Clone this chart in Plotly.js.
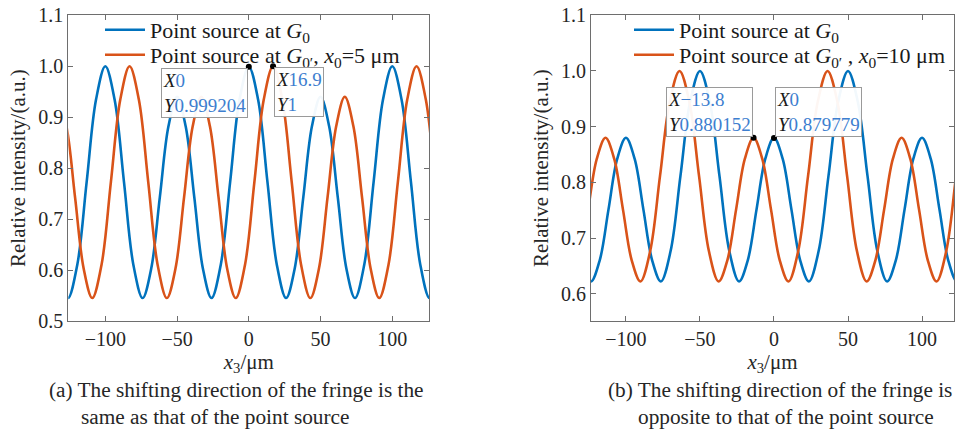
<!DOCTYPE html>
<html>
<head>
<meta charset="utf-8">
<script src="https://cdn.plot.ly/plotly-3.0.1.min.js"></script>
<style>html,body{margin:0;padding:0;background:#fff;}#chart{width:955px;height:430px;}</style>
</head>
<body>
<div id="chart"></div>
<script>
// ---- data ----
// (a) fringe shifts the same way as the point source
const aBlueX = [-132,-126,-119.5,-113,-106.5,-100,-93.5,-87,-80.5,-74,-68,-62,-56,-50,-44,-38,-32,-26,-19.5,-13,-6.5,0,6.5,13,19.5,26,32,38,44,50,56,62,68,74,80.5,87,93.5,100,106.5,113,119.5,126,132];
const aBlueY = [0.603,0.545,0.611,0.773,0.934,1.0,0.934,0.773,0.611,0.545,0.603,0.743,0.882,0.94,0.882,0.743,0.603,0.545,0.611,0.773,0.934,0.999,0.934,0.773,0.611,0.545,0.603,0.743,0.882,0.94,0.882,0.743,0.603,0.545,0.611,0.773,0.934,1.0,0.934,0.773,0.611,0.545,0.603];
const aRedX = [-139.1,-133.1,-127.1,-121.1,-115.1,-109.1,-102.6,-96.1,-89.6,-83.1,-76.6,-70.1,-63.6,-57.1,-51.1,-45.1,-39.1,-33.1,-27.1,-21.1,-15.1,-9.1,-2.6,3.9,10.4,16.9,23.4,29.9,36.4,42.9,48.9,54.9,60.9,66.9,72.9,78.9,84.9,90.9,97.4,103.9,110.4,116.9,123.4,129.9,136.4];
const aRedY = [0.882,0.94,0.882,0.743,0.603,0.545,0.611,0.773,0.934,1.0,0.934,0.773,0.611,0.545,0.603,0.743,0.882,0.94,0.882,0.743,0.603,0.545,0.611,0.773,0.934,1.0,0.934,0.773,0.611,0.545,0.603,0.743,0.882,0.94,0.882,0.743,0.603,0.545,0.611,0.773,0.934,1.0,0.934,0.773,0.611];
const aTipX = [0, 16.9];
const aTipY = [0.999204, 1];

// (b) fringe shifts opposite to the point source
const bBlueX = [-130.2,-123.6,-117.7,-111.8,-105.9,-100,-94.1,-88.2,-82.3,-76.4,-69.8,-63.2,-56.6,-50,-43.4,-36.8,-30.2,-23.6,-17.7,-11.8,-5.9,0,5.9,11.8,17.7,23.6,30.2,36.8,43.4,50,56.6,63.2,69.8,76.4,82.3,88.2,94.1,100,105.9,111.8,117.7,123.6,130.2];
const bBlueY = [0.677,0.622,0.660,0.751,0.842,0.88,0.842,0.751,0.660,0.622,0.677,0.811,0.945,1.0,0.945,0.811,0.677,0.622,0.660,0.751,0.842,0.88,0.842,0.751,0.660,0.622,0.677,0.811,0.945,1.0,0.945,0.811,0.677,0.622,0.660,0.751,0.842,0.88,0.842,0.751,0.660,0.622,0.677];
const bRedX = [-137.4,-131.5,-125.6,-119.7,-113.8,-107.9,-102.0,-96.1,-90.2,-83.6,-77.0,-70.4,-63.8,-57.2,-50.6,-44.0,-37.4,-31.5,-25.6,-19.7,-13.8,-7.9,-2.0,3.9,9.8,16.4,23.0,29.6,36.2,42.8,49.4,56.0,62.6,68.5,74.4,80.3,86.2,92.1,98.0,103.9,109.8,116.4,123.0,129.6];
const bRedY = [0.622,0.660,0.751,0.842,0.88,0.842,0.751,0.660,0.622,0.677,0.811,0.945,1.0,0.945,0.811,0.677,0.622,0.660,0.751,0.842,0.88,0.842,0.751,0.660,0.622,0.677,0.811,0.945,1.0,0.945,0.811,0.677,0.622,0.660,0.751,0.842,0.88,0.842,0.751,0.660,0.622,0.677,0.811,0.945];
const bTipX = [-13.8, 0];
const bTipY = [0.880152, 0.879779];

const legendA = ['Point source at <i>G</i><sub>0</sub>', 'Point source at <i>G</i><sub>0′</sub>, <i>x</i><sub>0</sub>=5 μm'];
const legendB = ['Point source at <i>G</i><sub>0</sub>', 'Point source at <i>G</i><sub>0′</sub> , <i>x</i><sub>0</sub>=10 μm'];
const xTitle = '<i>x</i><sub>3</sub>/μm';
const yTitle = 'Relative intensity/(a.u.)';
const captionA = ['(a) The shifting direction of the fringe is the', 'same as that of the point source'];
const captionB = ['(b) The shifting direction of the fringe is', 'opposite to that of the point source'];

// ---- styling ----
const FONT = 'Liberation Serif, Times New Roman, serif';
const BLUE = '#0072BD', RED = '#D95319', TIPBLUE = '#3d7ecf';
const lineW = 2.6;

function curve(x, y, color, name, xa, ya, leg) {
  return {x, y, type: 'scatter', mode: 'lines', name, xaxis: xa, yaxis: ya, legend: leg,
    line: {color, width: lineW, shape: 'spline', smoothing: 1}, hoverinfo: 'skip'};
}
const traces = [
  curve(aBlueX, aBlueY, BLUE, legendA[0], 'x', 'y', 'legend'),
  curve(aRedX, aRedY, RED, legendA[1], 'x', 'y', 'legend3'),
  curve(bBlueX, bBlueY, BLUE, legendB[0], 'x2', 'y2', 'legend2'),
  curve(bRedX, bRedY, RED, legendB[1], 'x2', 'y2', 'legend4'),
  {x: aTipX, y: aTipY, xaxis: 'x', yaxis: 'y', type: 'scatter', mode: 'markers', showlegend: false,
   marker: {color: '#000', size: 6}, hoverinfo: 'skip'},
  {x: bTipX, y: bTipY, xaxis: 'x2', yaxis: 'y2', type: 'scatter', mode: 'markers', showlegend: false,
   marker: {color: '#000', size: 6}, hoverinfo: 'skip'}
];

function fmt(v) { return String(v).replace('-', '−'); }
function tip(x, y, xr, yr, xanchor, yanchor, xs, ys) {
  return {x, y, xref: xr, yref: yr, xanchor, yanchor, xshift: xs, yshift: ys, showarrow: false, align: 'left',
    text: '<i>X</i><span style="color:' + TIPBLUE + '">' + fmt(x) + '</span><br><i>Y</i><span style="color:' + TIPBLUE + '">' + fmt(y) + '</span>',
    font: {family: FONT, size: 19, color: '#1a1a1a'}, bgcolor: 'rgba(255,255,255,0.95)', bordercolor: '#9a9a9a', borderwidth: 1, borderpad: 1};
}

const axisCommon = {
  showline: true, linecolor: '#6e6e6e', linewidth: 1, mirror: 'ticks', ticks: 'inside', ticklen: 5, tickcolor: '#6e6e6e',
  showgrid: false, zeroline: false, tickfont: {family: FONT, size: 20, color: '#262626'}, automargin: false
};
const yDom = [0.2535, 0.9645];
const titleFont = {family: FONT, size: 21, color: '#262626'};

function leg(xpx, ypx) {
  return {x: xpx/955, y: 1 - ypx/430, xanchor: 'left', yanchor: 'middle', bgcolor: 'rgba(0,0,0,0)', borderwidth: 0,
    font: {family: FONT, size: 22, color: '#1a1a1a'}, itemwidth: 40};
}
function cap(xpx, ypx, text) {
  return {x: xpx/955, y: 1 - ypx/430, xref: 'paper', yref: 'paper', xanchor: 'left', yanchor: 'middle', showarrow: false,
    text, font: {family: FONT, size: 21.3, color: '#262626'}};
}

const layout = {
  width: 955, height: 430, margin: {l: 0, r: 0, t: 0, b: 0}, paper_bgcolor: '#fff', plot_bgcolor: '#fff',
  showlegend: true,
  xaxis: Object.assign({}, axisCommon, {domain: [68.3/955, 429.3/955], range: [-125.8, 125.8], tickvals: [-100, -50, 0, 50, 100], anchor: 'y',
    title: {text: xTitle, font: titleFont, standoff: 3}}),
  yaxis: Object.assign({}, axisCommon, {domain: yDom, range: [0.5, 1.1], tick0: 0.5, dtick: 0.1, tickformat: '.1f', anchor: 'x',
    title: {text: yTitle, font: titleFont, standoff: 6}}),
  xaxis2: Object.assign({}, axisCommon, {domain: [591/955, 954/955], range: [-123.6, 121.6], tickvals: [-100, -50, 0, 50, 100], anchor: 'y2',
    title: {text: xTitle, font: titleFont, standoff: 3}}),
  yaxis2: Object.assign({}, axisCommon, {domain: yDom, range: [0.551, 1.1], tick0: 0.5, dtick: 0.1, tickformat: '.1f', anchor: 'x2',
    title: {text: yTitle, font: titleFont, standoff: 6}}),
  legend: leg(100, 30),
  legend3: leg(100, 55),
  legend2: leg(629, 30),
  legend4: leg(629, 55),
  annotations: [
    tip(aTipX[0], aTipY[0], 'x', 'y', 'right', 'top', -1, -1),
    tip(aTipX[1], aTipY[1], 'x', 'y', 'left', 'top', 1, -1),
    tip(bTipX[0], bTipY[0], 'x2', 'y2', 'right', 'bottom', -1, 1),
    tip(bTipX[1], bTipY[1], 'x2', 'y2', 'left', 'bottom', 1, 1),
    cap(47, 390, captionA[0]),
    cap(79, 417, captionA[1]),
    cap(606, 390, captionB[0]),
    cap(636, 417, captionB[1])
  ]
};

Plotly.newPlot('chart', traces, layout, {displayModeBar: false, staticPlot: true});
</script>
</body>
</html>
